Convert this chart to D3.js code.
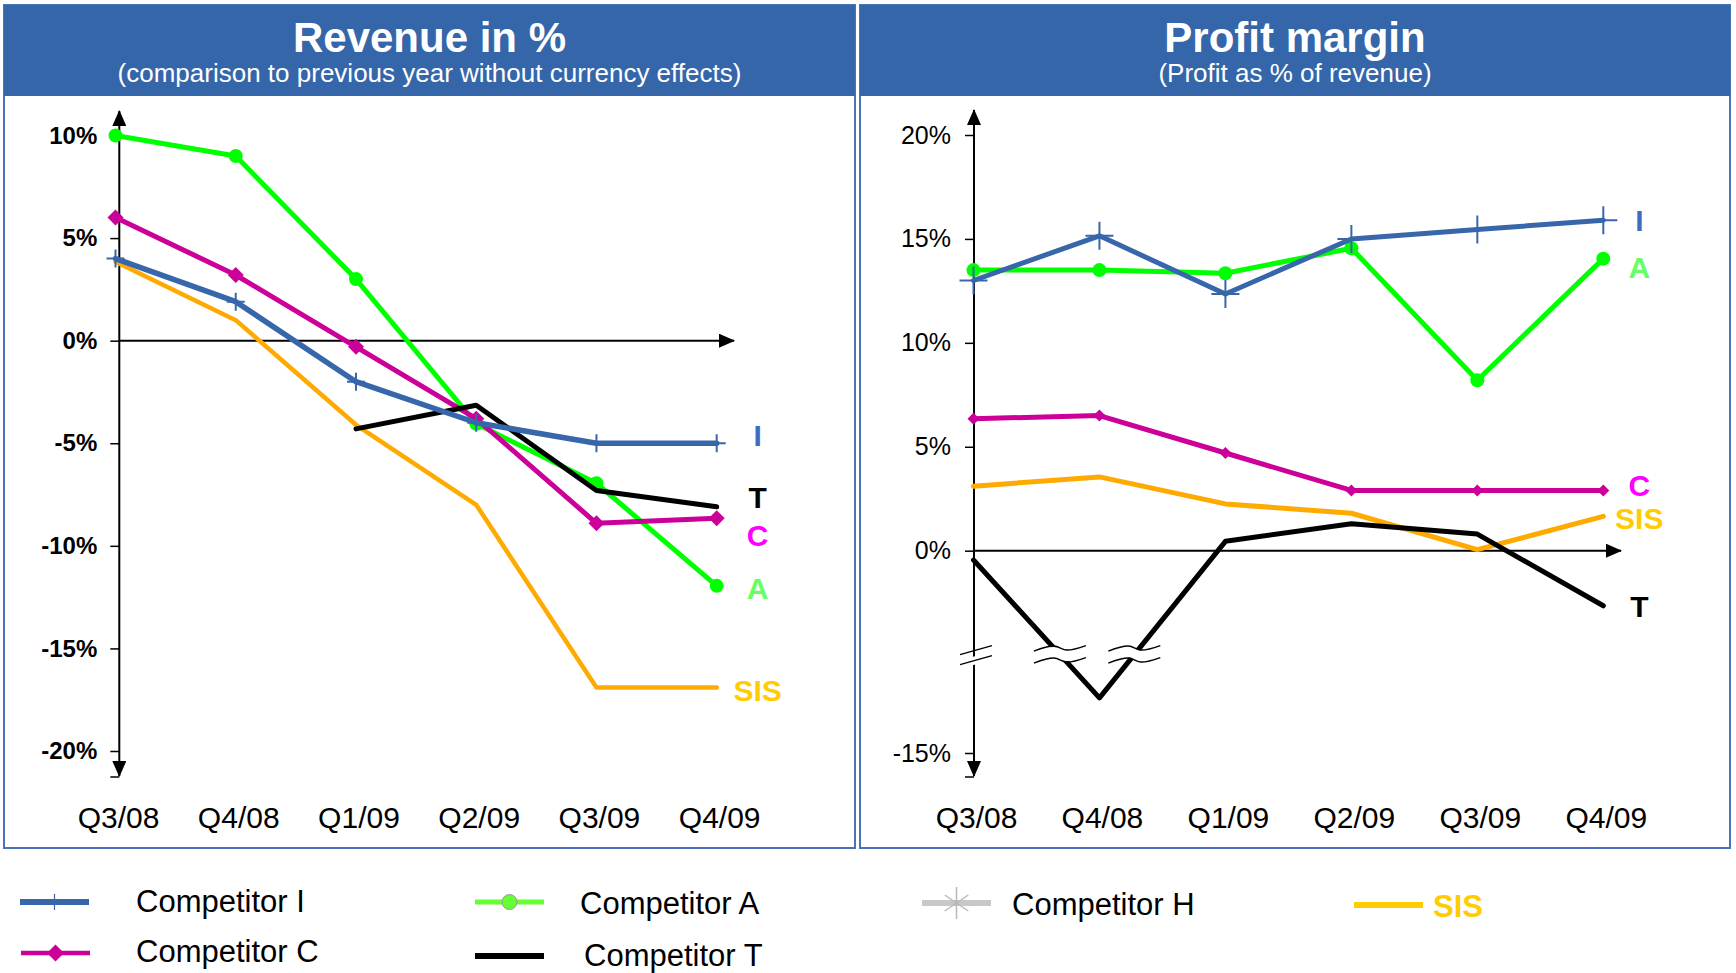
<!DOCTYPE html>
<html>
<head>
<meta charset="utf-8">
<script src="https://cdn.jsdelivr.net/npm/d3@7"></script>
<style>
  body { margin: 0; background: #fff; }
  svg { display: block; font-family: "Liberation Sans", Arial, sans-serif; }
</style>
</head>
<body>
<svg id="chart" width="1736" height="973"></svg>
<script>
const quarters = ["Q3/08", "Q4/08", "Q1/09", "Q2/09", "Q3/09", "Q4/09"];

// revenue in % vs previous year
const revenueI   = [4.0, 1.9, -2.0, -4.0, -5.0, -5.0];
const revenueC   = [6.0, 3.2, -0.3, -3.8, -8.9, -8.65];
const revenueA   = [10.0, 9.0, 3.0, -4.05, -6.95, -11.95];
const revenueT   = [null, null, -4.3, -3.15, -7.3, -8.1];
const revenueSIS = [3.85, 1.0, -4.1, -8.0, -16.9, -16.9];

// profit margin, profit as % of revenue
const marginI   = [13.0, 15.15, 12.35, 15.0, 15.45, 15.9];
const marginA   = [13.5, 13.5, 13.35, 14.55, 8.2, 14.05];
const marginC   = [6.35, 6.5, 4.7, 2.9, 2.9, 2.9];
const marginSIS = [3.1, 3.55, 2.25, 1.8, 0.05, 1.65];
const marginT   = [-0.45, -9.4, 0.45, 1.3, 0.8, -2.65];

const revenueTicks = [10, 5, 0, -5, -10, -15, -20];
const marginTicks  = [20, 15, 10, 5, 0, -15];

const BLUE = "#3766ab", GREEN = "#00ff00", MAGENTA = "#cc0099", ORANGE = "#ffaa00", BLACK = "#000";

const svg = d3.select("#chart");

// arrow heads
const defs = svg.append("defs");
defs.append("marker")
  .attr("id", "arrow")
  .attr("viewBox", "0 0 16 14")
  .attr("refX", 15).attr("refY", 7)
  .attr("markerWidth", 16).attr("markerHeight", 14)
  .attr("markerUnits", "userSpaceOnUse")
  .attr("orient", "auto-start-reverse")
  .append("path").attr("d", "M0,0 L16,7 L0,14 Z").attr("fill", "#000");

// panels + headers
const panels = [
  { x: 4, w: 851, title: "Revenue in %", sub: "(comparison to previous year without currency effects)" },
  { x: 860, w: 870, title: "Profit margin", sub: "(Profit as % of revenue)" }
];
panels.forEach(p => {
  svg.append("rect").attr("x", p.x).attr("y", 5).attr("width", p.w).attr("height", 843)
    .attr("fill", "#fff").attr("stroke", "#4a74b8").attr("stroke-width", 2);
  svg.append("rect").attr("x", p.x).attr("y", 5).attr("width", p.w).attr("height", 91)
    .attr("fill", "#3566aa");
  svg.append("text").attr("x", p.x + p.w / 2).attr("y", 52).attr("text-anchor", "middle")
    .attr("fill", "#fff").attr("font-size", 42).attr("font-weight", "bold").text(p.title);
  svg.append("text").attr("x", p.x + p.w / 2).attr("y", 82).attr("text-anchor", "middle")
    .attr("fill", "#fff").attr("font-size", 26).text(p.sub);
});

function drawPanel(cfg) {
  const x = d3.scalePoint().domain(quarters).range(cfg.xRange);
  const y = d3.scaleLinear().domain(cfg.yDomain).range(cfg.yRange);
  const g = svg.append("g");

  // y axis ticks + labels
  const yAxis = d3.axisLeft(y).tickValues(cfg.ticks).tickSize(9).tickPadding(cfg.tickPad)
    .tickFormat(d => d + "%");
  const ga = g.append("g").attr("transform", `translate(${cfg.axisX},0)`).call(yAxis);
  ga.select(".domain").remove();
  ga.selectAll(".tick line").attr("stroke", "#000").attr("stroke-width", 1.5);
  ga.selectAll(".tick text").attr("font-size", cfg.tickFont).attr("font-weight", cfg.tickWeight)
    .attr("font-family", "Liberation Sans, Arial, sans-serif").attr("fill", "#000");

  // axes with arrows
  g.append("line").attr("x1", cfg.axisX).attr("x2", cfg.axisX)
    .attr("y1", cfg.yBottom).attr("y2", cfg.yTop)
    .attr("stroke", "#000").attr("stroke-width", 2)
    .attr("marker-start", "url(#arrow)").attr("marker-end", "url(#arrow)");
  g.append("line").attr("x1", cfg.axisX - 9).attr("x2", cfg.axisX)
    .attr("y1", cfg.yBottom + 1).attr("y2", cfg.yBottom + 1).attr("stroke", "#000").attr("stroke-width", 1.5);
  g.append("line").attr("x1", cfg.axisX).attr("x2", cfg.xEnd)
    .attr("y1", y(0)).attr("y2", y(0))
    .attr("stroke", "#000").attr("stroke-width", 2).attr("marker-end", "url(#arrow)");

  // category labels
  g.selectAll("text.cat").data(quarters).enter().append("text").attr("class", "cat")
    .attr("x", d => x(d) + 3).attr("y", 828).attr("text-anchor", "middle")
    .attr("font-size", 30).attr("fill", "#000").text(d => d);

  const line = d3.line().defined(d => d.v != null).x(d => x(d.q)).y(d => y(d.v));

  cfg.series.forEach(s => {
    const pts = quarters.map((q, i) => ({ q, v: s.values[i] }));
    g.append("path").datum(pts).attr("d", line).attr("fill", "none")
      .attr("stroke", s.color).attr("stroke-width", s.width)
      .attr("stroke-linejoin", "round").attr("stroke-linecap", "round");
    const pp = pts.filter(d => d.v != null);
    if (s.marker === "plus") {
      g.selectAll(null).data(pp).enter().append("path")
        .attr("transform", d => `translate(${x(d.q)},${y(d.v)})`)
        .attr("d", `M${-cfg.plus},0H${cfg.plus}M0,${-cfg.plus}V${cfg.plus}`)
        .attr("stroke", s.color).attr("stroke-width", 2);
    } else if (s.marker === "circle") {
      g.selectAll(null).data(pp).enter().append("circle")
        .attr("cx", d => x(d.q)).attr("cy", d => y(d.v)).attr("r", cfg.dot).attr("fill", s.color);
    } else if (s.marker === "diamond") {
      const h = cfg.diamond;
      g.selectAll(null).data(pp).enter().append("path")
        .attr("transform", d => `translate(${x(d.q)},${y(d.v)})`)
        .attr("d", `M0,${-h}L${h},0L0,${h}L${-h},0Z`).attr("fill", s.color);
    }
    // end label
    const last = pp[pp.length - 1];
    g.append("text").attr("x", x(last.q) + cfg.labelDx).attr("y", y(last.v) + s.labelDy)
      .attr("dy", "0.36em").attr("text-anchor", "middle")
      .attr("font-size", 30).attr("font-weight", "bold").attr("fill", s.labelColor).text(s.label);
  });

  return { x, y, g };
}

drawPanel({
  xRange: [115.5, 716.7], yDomain: [-20, 10], yRange: [751, 135.5],
  axisX: 119.3, yTop: 111, yBottom: 776, xEnd: 734,
  ticks: revenueTicks, tickPad: 13, tickFont: 24, tickWeight: "bold",
  plus: 9, dot: 7, diamond: 8, labelDx: 41,
  series: [
    { values: revenueSIS, color: ORANGE, width: 4.5, marker: null, label: "SIS", labelColor: "#ffcc00", labelDy: 2.5 },
    { values: revenueA, color: GREEN, width: 5, marker: "circle", label: "A", labelColor: "#66ff66", labelDy: 2 },
    { values: revenueC, color: MAGENTA, width: 5, marker: "diamond", label: "C", labelColor: "#ff00ff", labelDy: 17 },
    { values: revenueT, color: BLACK, width: 5, marker: null, label: "T", labelColor: "#000", labelDy: -10 },
    { values: revenueI, color: BLUE, width: 5.5, marker: "plus", label: "I", labelColor: "#3f6cc1", labelDy: -8 }
  ]
});

const right = drawPanel({
  xRange: [973.5, 1603.3], yDomain: [-15, -5, 20], yRange: [753, 654.6, 135],
  axisX: 974, yTop: 110, yBottom: 776, xEnd: 1621,
  ticks: marginTicks, tickPad: 14, tickFont: 25, tickWeight: "normal",
  plus: 14, dot: 7, diamond: 6, labelDx: 36,
  series: [
    { values: marginSIS, color: ORANGE, width: 5, marker: null, label: "SIS", labelColor: "#ffcc00", labelDy: 2 },
    { values: marginA, color: GREEN, width: 5, marker: "circle", label: "A", labelColor: "#66ff66", labelDy: 9 },
    { values: marginC, color: MAGENTA, width: 5, marker: "diamond", label: "C", labelColor: "#ff00ff", labelDy: -5 },
    { values: marginT, color: BLACK, width: 5, marker: null, label: "T", labelColor: "#000", labelDy: 0 },
    { values: marginI, color: BLUE, width: 5, marker: "plus", label: "I", labelColor: "#3f6cc1", labelDy: 0 }
  ]
});

// axis break at -5% on the profit margin chart
const yb = right.y(-5);
const brk = right.g.append("g");
brk.append("path").attr("d", `M${974 - 14},${yb + 10}L${974 + 18},${yb + 1}`)
  .attr("stroke", "#fff").attr("stroke-width", 8);
[-5, 5].forEach(o => {
  brk.append("path").attr("d", `M${974 - 14},${yb + 5 + o}L${974 + 18},${yb - 4 + o}`)
    .attr("stroke", "#000").attr("stroke-width", 1.5);
});
// wavy cut marks where T crosses the break
const tx = right.x, ty = right.y;
const wave = d3.line().curve(d3.curveCatmullRom);
const wavePts = [[-26, 2.5], [-6, -2.5], [7, 1.5], [26, -3]];
for (let i = 0; i < marginT.length - 1; i++) {
  const a = marginT[i], b = marginT[i + 1];
  if ((a + 5) * (b + 5) >= 0) continue;
  const x0 = tx(quarters[i]), x1 = tx(quarters[i + 1]);
  const y0 = ty(a), y1 = ty(b);
  const cx = x0 + (yb - y0) / (y1 - y0) * (x1 - x0);
  const w = brk.append("g").attr("transform", `translate(${cx},${yb})`);
  w.append("path").attr("d", wave(wavePts)).attr("fill", "none").attr("stroke", "#fff").attr("stroke-width", 10);
  [-6, 6].forEach(o => {
    w.append("path").attr("d", wave(wavePts.map(p => [p[0], p[1] + o])))
      .attr("fill", "none").attr("stroke", "#000").attr("stroke-width", 1.5);
  });
}

// legend
const legend = [
  { name: "Competitor I", x: 20, y: 902, color: BLUE, width: 6, marker: "tick", tx: 136, ty: 912 },
  { name: "Competitor C", x: 21, y: 953, color: MAGENTA, width: 4.5, marker: "diamond", tx: 136, ty: 962 },
  { name: "Competitor A", x: 475, y: 902, color: "#66ff33", width: 5, marker: "circle", tx: 580, ty: 914 },
  { name: "Competitor T", x: 475, y: 956, color: BLACK, width: 6, marker: null, tx: 584, ty: 966 },
  { name: "Competitor H", x: 922, y: 903, color: "#c8c8c8", width: 6, marker: "star", tx: 1012, ty: 915 },
  { name: "SIS", x: 1354, y: 905, color: "#ffcc00", width: 6, marker: null, tx: 1433, ty: 917, bold: true }
];
const lg = svg.append("g");
legend.forEach(d => {
  const len = 69, mx = d.x + len / 2;
  lg.append("line").attr("x1", d.x).attr("x2", d.x + len).attr("y1", d.y).attr("y2", d.y)
    .attr("stroke", d.color).attr("stroke-width", d.width);
  if (d.marker === "tick") {
    lg.append("line").attr("x1", mx).attr("x2", mx).attr("y1", d.y - 8).attr("y2", d.y + 8)
      .attr("stroke", d.color).attr("stroke-width", 1.2);
  } else if (d.marker === "diamond") {
    lg.append("path").attr("d", `M${mx},${d.y - 8.5}L${mx + 8.5},${d.y}L${mx},${d.y + 8.5}L${mx - 8.5},${d.y}Z`)
      .attr("fill", d.color);
  } else if (d.marker === "circle") {
    lg.append("circle").attr("cx", mx).attr("cy", d.y).attr("r", 7.5)
      .attr("fill", d.color).attr("stroke", "#999").attr("stroke-width", 1);
  } else if (d.marker === "star") {
    const r = 16;
    [0, 60, 120].forEach(a => {
      const rad = (a + 90) * Math.PI / 180;
      lg.append("line")
        .attr("x1", mx - r * Math.cos(rad) * 0.85).attr("y1", d.y - r * Math.sin(rad))
        .attr("x2", mx + r * Math.cos(rad) * 0.85).attr("y2", d.y + r * Math.sin(rad))
        .attr("stroke", "#b8b8b8").attr("stroke-width", 1.5);
    });
  }
  lg.append("text").attr("x", d.tx).attr("y", d.ty).attr("font-size", 31)
    .attr("font-weight", d.bold ? "bold" : "normal")
    .attr("fill", d.bold ? d.color : "#000").text(d.name);
});
</script>
</body>
</html>
